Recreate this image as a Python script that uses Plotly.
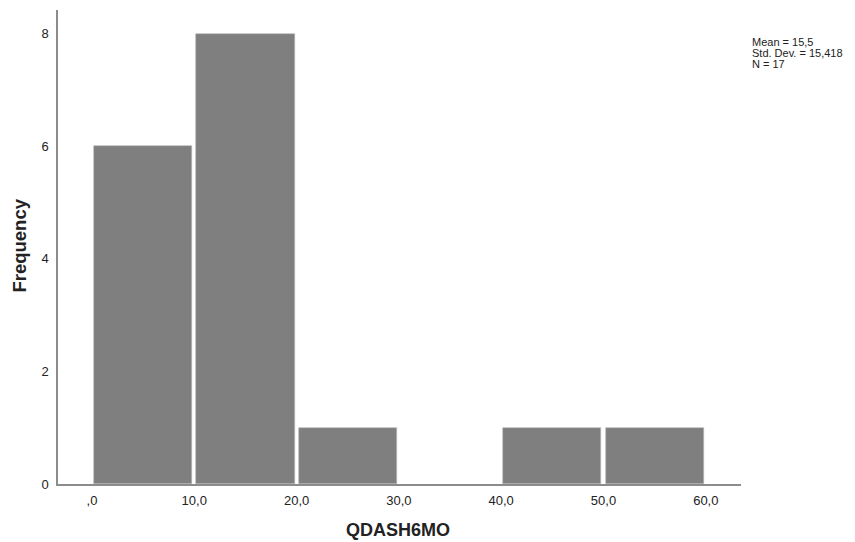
import plotly.graph_objects as go

# Histogram bins (lower edges) and counts for QDASH6MO
bin_starts = [0, 10, 20, 30, 40, 50]
bin_width = 10
counts = [6, 8, 1, 0, 1, 1]
x_ticks = [0, 10, 20, 30, 40, 50, 60]
x_tick_text = [",0", "10,0", "20,0", "30,0", "40,0", "50,0", "60,0"]
y_ticks = [0, 2, 4, 6, 8]
stats_lines = ["Mean = 15,5", "Std. Dev. = 15,418", "N = 17"]
x_title = "QDASH6MO"
y_title = "Frequency"

centers = [s + bin_width / 2 for s in bin_starts]
# empty bins get no outline so nothing is drawn for them
outline_widths = [0.6 if c > 0 else 0 for c in counts]

fig = go.Figure()
fig.add_trace(go.Bar(
    x=centers,
    y=counts,
    width=bin_width * 0.96,
    marker=dict(color="#7f7f7f", line=dict(color="#b5b5b5", width=outline_widths)),
    hoverinfo="skip",
))

font_family = "Liberation Sans, Arial, sans-serif"

# plot area: 683 px wide x 474 px tall; stats block lines are 11 px apart
annotations = [
    dict(
        text=line,
        xref="paper", yref="paper",
        x=1.0132, y=0.9325 - i * 11 / 474,
        xanchor="left", yanchor="middle",
        align="left",
        showarrow=False,
        font=dict(size=11, family=font_family, color="#222222"),
    )
    for i, line in enumerate(stats_lines)
]
annotations.append(dict(
    text=f"<b>{x_title}</b>",
    xref="paper", yref="paper",
    x=0.4985, y=-0.097,
    xanchor="center", yanchor="middle",
    showarrow=False,
    font=dict(size=18, family=font_family, color="#222222"),
))
annotations.append(dict(
    text=f"<b>{y_title}</b>",
    xref="paper", yref="paper",
    x=-0.0564, y=0.504,
    xanchor="center", yanchor="middle",
    textangle=-90,
    showarrow=False,
    font=dict(size=18.5, family=font_family, color="#222222"),
))

fig.update_layout(
    width=855,
    height=542,
    margin=dict(l=58, r=114, t=10, b=58),
    paper_bgcolor="white",
    plot_bgcolor="white",
    showlegend=False,
    bargap=0,
    font=dict(family=font_family, color="#222222", size=13),
    xaxis=dict(
        range=[-3.32, 63.44],
        tickvals=x_ticks,
        ticktext=x_tick_text,
        showgrid=False,
        zeroline=False,
        showline=True,
        linecolor="#8c8c8c",
        linewidth=1.5,
        ticks="",
        ticklabelstandoff=4,
        tickfont=dict(size=13, family=font_family),
        automargin=False,
    ),
    yaxis=dict(
        range=[0, 8.42],
        tickvals=y_ticks,
        showgrid=False,
        zeroline=False,
        showline=True,
        linecolor="#8c8c8c",
        linewidth=1.5,
        ticks="",
        ticklabelstandoff=5,
        tickfont=dict(size=13, family=font_family),
        automargin=False,
    ),
    annotations=annotations,
)

fig.write_html("out.html")
